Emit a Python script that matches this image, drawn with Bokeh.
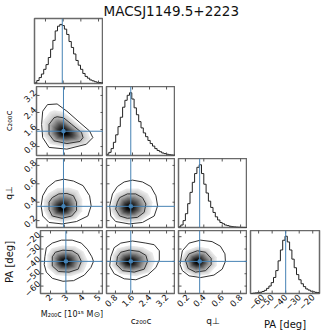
import math
from bokeh.plotting import figure
from bokeh.models import Range1d, LinearAxis, FixedTicker, Spacer, Span, Grid
from bokeh.layouts import column, row
from bokeh.embed import file_html
from bokeh.resources import INLINE

# ---------------- data ----------------
TITLE = "MACSJ1149.5+2223"
PARAMS = ["M", "c", "q", "PA"]
AXIS_LABELS = {"M": "M₂₀₀c [10¹⁵ M⊙]", "c": "c₂₀₀c", "q": "q⊥", "PA": "PA [deg]"}
LABEL_SIZES = {"M": "8px", "c": "9px", "q": "9px", "PA": "10px"}
RANGES = {"M": (1.38, 5.28), "c": (0.38, 3.62), "q": (0.125, 0.875), "PA": (-66.0, -15.0)}
TICKS = {"M": [2, 3, 4, 5], "c": [0.8, 1.6, 2.4, 3.2], "q": [0.2, 0.4, 0.6, 0.8],
         "PA": [-60, -50, -40, -30, -20]}
TICK_TEXT = {"M": ["2", "3", "4", "5"], "c": ["0.8", "1.6", "2.4", "3.2"],
             "q": ["0.2", "0.4", "0.6", "0.8"], "PA": ["−60", "−50", "−40", "−30", "−20"]}
TRUTHS = {"M": 2.95, "c": 1.52, "q": 0.355, "PA": -40.0}

M_edges = [1.38, 1.51, 1.64, 1.77, 1.90, 2.03, 2.16, 2.29, 2.42, 2.55, 2.68, 2.81, 2.94, 3.07,
           3.20, 3.33, 3.46, 3.59, 3.72, 3.85, 3.98, 4.11, 4.24, 4.37, 4.50, 4.63, 4.76, 4.89,
           5.02, 5.15, 5.28]
M_hist = [0.01, 0.05, 0.10, 0.16, 0.24, 0.32, 0.44, 0.58, 0.73, 0.89, 0.97, 1.00, 0.98, 0.92,
          0.83, 0.71, 0.61, 0.50, 0.39, 0.31, 0.24, 0.17, 0.12, 0.09, 0.06, 0.045, 0.03, 0.02,
          0.015, 0.01]

c_edges = [0.380, 0.488, 0.596, 0.704, 0.812, 0.920, 1.028, 1.136, 1.244, 1.352, 1.460, 1.568,
           1.676, 1.784, 1.892, 2.000, 2.108, 2.216, 2.324, 2.432, 2.540, 2.648, 2.756, 2.864,
           2.972, 3.080, 3.188, 3.296, 3.404, 3.512, 3.620]
c_hist = [0.02, 0.05, 0.11, 0.21, 0.33, 0.46, 0.61, 0.77, 0.88, 0.96, 1.00, 0.90, 0.76, 0.65,
          0.54, 0.44, 0.36, 0.30, 0.24, 0.19, 0.15, 0.11, 0.08, 0.06, 0.04, 0.03, 0.02, 0.012,
          0.008, 0.005]

q_edges = [0.125, 0.150, 0.175, 0.200, 0.225, 0.250, 0.275, 0.300, 0.325, 0.350, 0.375, 0.400,
           0.425, 0.450, 0.475, 0.500, 0.525, 0.550, 0.575, 0.600, 0.625, 0.650, 0.675, 0.700,
           0.725, 0.750, 0.775, 0.800, 0.825, 0.850, 0.875]
q_hist = [0.01, 0.04, 0.11, 0.22, 0.38, 0.56, 0.72, 0.86, 0.96, 1.00, 0.86, 0.69, 0.55, 0.42,
          0.32, 0.24, 0.17, 0.12, 0.08, 0.06, 0.04, 0.03, 0.02, 0.013, 0.009, 0.006, 0.004,
          0.002, 0.001, 0.0]

PA_edges = [-66.0, -64.3, -62.6, -60.9, -59.2, -57.5, -55.8, -54.1, -52.4, -50.7, -49.0, -47.3,
            -45.6, -43.9, -42.2, -40.5, -38.8, -37.1, -35.4, -33.7, -32.0, -30.3, -28.6, -26.9,
            -25.2, -23.5, -21.8, -20.1, -18.4, -16.7, -15.0]
PA_hist = [0.0, 0.005, 0.01, 0.015, 0.022, 0.035, 0.055, 0.09, 0.13, 0.19, 0.28, 0.40, 0.57,
           0.76, 0.93, 1.00, 0.90, 0.76, 0.60, 0.45, 0.33, 0.24, 0.17, 0.12, 0.08, 0.06, 0.04,
           0.03, 0.02, 0.015]

HISTS = {"M": (M_edges, M_hist), "c": (c_edges, c_hist), "q": (q_edges, q_hist),
         "PA": (PA_edges, PA_hist)}

# 2D panels: outer / inner credible contours and the density peak (x, y)
Mc_outer = [(2.02, 2.77), (1.74, 2.46), (1.68, 1.84), (1.74, 1.22), (2.11, 0.76), (3.15, 0.68),
            (4.28, 0.91), (4.66, 1.22), (4.47, 1.53), (3.91, 1.92), (3.15, 2.46), (2.58, 2.80)]
Mc_inner = [(2.40, 2.15), (2.11, 1.84), (2.11, 1.38), (2.40, 1.07), (3.15, 0.94), (3.91, 1.04),
            (4.09, 1.22), (4.00, 1.46), (3.43, 1.84), (2.96, 2.15), (2.58, 2.20)]
Mc_peak = (3.0, 1.45)

Mq_outer = [(1.65, 0.36), (1.74, 0.47), (2.02, 0.56), (2.49, 0.63), (2.96, 0.65), (3.53, 0.63),
            (4.09, 0.58), (4.47, 0.47), (4.56, 0.36), (4.37, 0.25), (3.71, 0.19), (2.87, 0.164),
            (2.11, 0.18), (1.74, 0.25)]
Mq_inner = [(2.11, 0.40), (2.30, 0.45), (2.68, 0.49), (3.15, 0.495), (3.53, 0.47), (3.71, 0.40),
            (3.71, 0.31), (3.43, 0.25), (2.87, 0.225), (2.30, 0.25), (2.11, 0.32)]
Mq_peak = (2.87, 0.33)

cq_outer = [(0.53, 0.36), (0.66, 0.49), (0.89, 0.57), (1.21, 0.62), (1.60, 0.64), (2.07, 0.62),
            (2.46, 0.57), (2.70, 0.47), (2.78, 0.36), (2.62, 0.25), (2.07, 0.18), (1.44, 0.164),
            (0.81, 0.19), (0.58, 0.25)]
cq_inner = [(0.89, 0.40), (1.00, 0.45), (1.36, 0.49), (1.75, 0.49), (2.07, 0.45), (2.23, 0.38),
            (2.15, 0.29), (1.83, 0.235), (1.36, 0.225), (1.00, 0.25), (0.81, 0.325)]
cq_peak = (1.44, 0.34)

MPA_outer = [(1.65, -36.3), (1.74, -28.9), (2.11, -25.2), (2.68, -22.8), (3.34, -22.8),
             (3.91, -25.2), (4.28, -30.2), (4.56, -36.3), (4.66, -40.0), (4.50, -45.0),
             (4.09, -51.1), (3.43, -55.6), (2.77, -56.1), (2.11, -53.7), (1.74, -48.7),
             (1.61, -42.6)]
MPA_inner = [(2.11, -36.3), (2.30, -32.6), (2.77, -30.9), (3.34, -31.4), (3.71, -34.4),
             (3.91, -40.0), (3.71, -46.3), (3.15, -48.7), (2.49, -48.2), (2.11, -43.7)]
MPA_peak = (2.88, -40.5)

cPA_outer = [(0.58, -36.3), (0.74, -28.9), (1.05, -25.2), (1.60, -23.5), (2.23, -25.2),
             (2.62, -26.5), (2.86, -31.4), (2.86, -38.9), (2.70, -45.0), (2.31, -51.1),
             (1.76, -54.9), (1.21, -54.1), (0.74, -50.0), (0.53, -43.7)]
cPA_inner = [(0.89, -36.3), (1.05, -32.6), (1.44, -30.9), (1.91, -31.9), (2.23, -35.1),
             (2.31, -40.0), (2.15, -46.3), (1.68, -48.7), (1.13, -47.5), (0.85, -42.6)]
cPA_peak = (1.44, -40.5)

qPA_outer = [(0.149, -38.9), (0.167, -31.4), (0.24, -25.2), (0.365, -22.8), (0.49, -24.0),
             (0.58, -27.7), (0.63, -33.9), (0.635, -40.0), (0.60, -46.3), (0.51, -51.1),
             (0.365, -53.1), (0.24, -51.7), (0.167, -47.5), (0.142, -42.6)]
qPA_inner = [(0.20, -38.9), (0.24, -33.9), (0.33, -31.4), (0.42, -32.6), (0.48, -37.6),
             (0.48, -42.6), (0.42, -47.5), (0.31, -48.7), (0.23, -45.7)]
qPA_peak = (0.33, -40.2)

CONTOURS = {
    ("M", "c"): (Mc_outer, Mc_inner, Mc_peak),
    ("M", "q"): (Mq_outer, Mq_inner, Mq_peak),
    ("c", "q"): (cq_outer, cq_inner, cq_peak),
    ("M", "PA"): (MPA_outer, MPA_inner, MPA_peak),
    ("c", "PA"): (cPA_outer, cPA_inner, cPA_peak),
    ("q", "PA"): (qPA_outer, qPA_inner, qPA_peak),
}

# ---------------- styling / layout ----------------
FONT = "DejaVu Sans"
TRUTH_COLOR = "#4682b4"
TICK_COLOR = "#555555"
FRAME = 69
GAP = 3
LEFT = 34
RIGHT = 14
TOP = 14
BOTTOM = 34
Y_LABEL_LIFT_PX = 4.5   # centre the slanted y tick labels on their ticks
SHADE_STEPS = 36
SHADE_MAX = 1.4
SHADE_K = 1.3


def add_label_axis(p, side, key):
    ticks = TICKS[key]
    if side == "left":
        lo, hi = RANGES[key]
        lift = Y_LABEL_LIFT_PX * (hi - lo) / FRAME
        ticks = [round(t + lift, 4) for t in ticks]
    ax = LinearAxis(ticker=FixedTicker(ticks=ticks))
    ax.major_label_overrides = {t: s for t, s in zip(ticks, TICK_TEXT[key])}
    ax.axis_line_color = None
    ax.major_tick_in = 0
    ax.major_tick_out = 0
    ax.minor_tick_in = 0
    ax.minor_tick_out = 0
    ax.major_tick_line_color = None
    ax.minor_tick_line_color = None
    ax.major_label_text_font = FONT
    ax.major_label_text_font_size = "8.5px"
    ax.major_label_text_color = "#111111"
    ax.major_label_orientation = math.pi / 4
    ax.major_label_standoff = 2
    ax.axis_label = AXIS_LABELS[key]
    ax.axis_label_text_font = FONT
    ax.axis_label_text_font_size = LABEL_SIZES[key]
    ax.axis_label_text_font_style = "normal"
    ax.axis_label_text_color = "#111111"
    ax.axis_label_standoff = 3
    p.add_layout(ax, side)


def add_inner_ticks(p, xk, yk):
    x0, x1 = p.x_range.start, p.x_range.end
    y0, y1 = p.y_range.start, p.y_range.end
    xt = TICKS[xk]
    p.scatter(xt + xt, [y0] * len(xt) + [y1] * len(xt), marker="dash", angle=math.pi / 2,
              size=6, line_color=TICK_COLOR, line_width=1)
    if yk is not None:
        yt = TICKS[yk]
        p.scatter([x0] * len(yt) + [x1] * len(yt), yt + yt, marker="dash", size=6,
                  line_color=TICK_COLOR, line_width=1)


def borders(i, j):
    left = LEFT if j == 0 else GAP
    right = RIGHT if j == 3 else 0
    top = TOP if i == 0 else 0
    bottom = BOTTOM if i == 3 else GAP
    return left, right, top, bottom


def panel(i, j):
    xk = PARAMS[j]
    yk = PARAMS[i]
    left, right, top, bottom = borders(i, j)
    yr = Range1d(0, 1.1) if i == j else Range1d(*RANGES[yk])
    p = figure(width=left + FRAME + right, height=top + FRAME + bottom,
               x_range=Range1d(*RANGES[xk]), y_range=yr,
               output_backend="svg", toolbar_location=None,
               x_axis_location=None, y_axis_location=None,
               min_border_left=left, min_border_right=right,
               min_border_top=top, min_border_bottom=bottom)
    for r in list(p.center):
        if isinstance(r, Grid):
            r.visible = False
    p.outline_line_color = "#6a6a6a"
    p.outline_line_width = 1.5
    p.background_fill_color = "white"
    p.border_fill_color = "white"

    if i == 3:
        add_label_axis(p, "below", xk)
    if j == 0 and i > 0:
        add_label_axis(p, "left", yk)

    if i == j:
        edges, h = HISTS[xk]
        p.step(x=edges, y=list(h) + [h[-1]], mode="after", line_color="#222222", line_width=1)
        p.add_layout(Span(location=TRUTHS[xk], dimension="height",
                          line_color=TRUTH_COLOR, line_width=1))
        add_inner_ticks(p, xk, None)
    else:
        outer, inner, peak = CONTOURS[(xk, yk)]
        xs, ys, cols = [], [], []
        for n in range(SHADE_STEPS):
            s = SHADE_MAX * (1 - n / SHADE_STEPS)
            xs.append([peak[0] + s * (x - peak[0]) for x, _ in inner])
            ys.append([peak[1] + s * (y - peak[1]) for _, y in inner])
            g = int(round(255 * (1 - math.exp(-SHADE_K * s * s))))
            cols.append("#%02x%02x%02x" % (g, g, g))
        p.patches(xs, ys, fill_color=cols, line_color=None)
        for poly in (outer, inner):
            px = [x for x, _ in poly] + [poly[0][0]]
            py = [y for _, y in poly] + [poly[0][1]]
            p.line(px, py, line_color="#333333", line_width=1)
        p.add_layout(Span(location=TRUTHS[xk], dimension="height",
                          line_color=TRUTH_COLOR, line_width=1))
        p.add_layout(Span(location=TRUTHS[yk], dimension="width",
                          line_color=TRUTH_COLOR, line_width=1))
        p.scatter([TRUTHS[xk]], [TRUTHS[yk]], marker="square", size=3,
                  color=TRUTH_COLOR)
        add_inner_ticks(p, xk, yk)
    return p


def title_fig():
    w = 3 * (GAP + FRAME) + RIGHT
    h = TOP + FRAME + GAP
    t = figure(title=TITLE, width=w, height=h, x_range=Range1d(0, 1), y_range=Range1d(0, 1),
               output_backend="svg", toolbar_location=None,
               x_axis_location=None, y_axis_location=None,
               min_border=0, min_border_left=0, min_border_right=0,
               min_border_top=0, min_border_bottom=0)
    for r in list(t.center):
        if isinstance(r, Grid):
            r.visible = False
    t.outline_line_color = None
    t.background_fill_color = "white"
    t.border_fill_color = "white"
    t.title.text_font = FONT
    t.title.text_font_size = "13.5px"
    t.title.text_font_style = "normal"
    t.title.text_color = "#111111"
    t.title.align = "left"
    t.title.offset = 0
    t.title.standoff = 0
    return t


def spacer(i, ncols):
    _, _, top, bottom = borders(i, 1)
    return Spacer(width=ncols * (GAP + FRAME) + RIGHT, height=top + FRAME + bottom)


rows = []
rows.append(row(panel(0, 0), title_fig(), spacing=0))
rows.append(row(panel(1, 0), panel(1, 1), spacer(1, 2), spacing=0))
rows.append(row(panel(2, 0), panel(2, 1), panel(2, 2), spacer(2, 1), spacing=0))
rows.append(row(panel(3, 0), panel(3, 1), panel(3, 2), panel(3, 3), spacing=0))
layout = column(*rows, spacing=0)

open("out.html", "w").write(file_html(layout, INLINE))
